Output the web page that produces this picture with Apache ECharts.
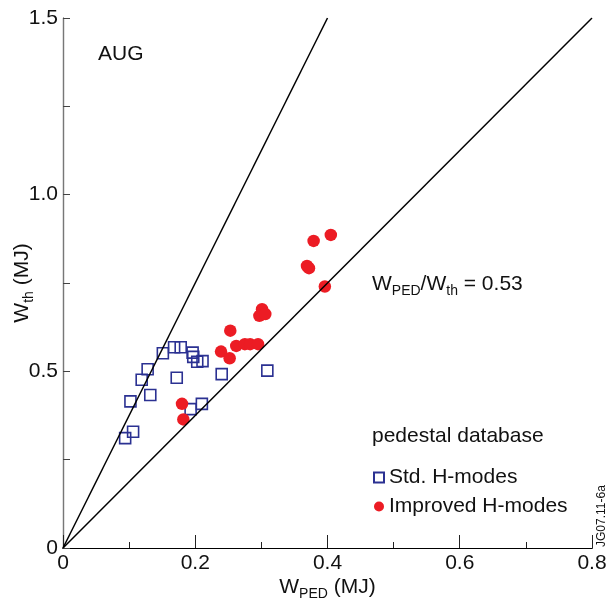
<!DOCTYPE html>
<html>
<head>
<meta charset="utf-8">
<script src="https://cdn.jsdelivr.net/npm/echarts@6/dist/echarts.min.js"></script>
<style>
html,body{margin:0;padding:0;background:#fff;}
#chart{width:612px;height:607px;}
</style>
</head>
<body>
<div id="chart"></div>
<script>
// Std. H-modes (W_PED, W_th) in MJ
const stdWped = [0.094, 0.106, 0.102, 0.132, 0.119, 0.128, 0.151, 0.168, 0.178, 0.172, 0.196, 0.197, 0.203, 0.211, 0.193, 0.210, 0.240, 0.309];
const stdWth  = [0.311, 0.329, 0.415, 0.433, 0.476, 0.506, 0.551, 0.568, 0.568, 0.482, 0.553, 0.541, 0.527, 0.529, 0.393, 0.408, 0.492, 0.502];
// Improved H-modes
const impWped = [0.405, 0.379, 0.369, 0.372, 0.396, 0.301, 0.297, 0.306, 0.253, 0.239, 0.252, 0.262, 0.275, 0.283, 0.295, 0.180, 0.182];
const impWth  = [0.886, 0.869, 0.798, 0.792, 0.740, 0.676, 0.657, 0.662, 0.615, 0.556, 0.537, 0.572, 0.577, 0.577, 0.577, 0.408, 0.364];
// reference ratio lines (W_PED, W_th)
const lineSteep = [[0, 0], [0.4, 1.5]];
const line053   = [[0, 0], [0.8, 1.5]];
const xTickLabels = ['0', '0.2', '0.4', '0.6', '0.8'];
const yTickLabels = ['0', '0.5', '1.0', '1.5'];

const FONT = 'Liberation Sans, Arial, Helvetica, sans-serif';
const FS = 21;
const zip = (a, b) => a.map((v, i) => [v, b[i]]);
const subRich = {
  n: {fontFamily: FONT, fontSize: FS, color: '#111', lineHeight: 24},
  s: {fontFamily: FONT, fontSize: 14, color: '#111', verticalAlign: 'bottom', lineHeight: 24, padding: [0, 0, -2, 0]}
};

const chart = echarts.init(document.getElementById('chart'));
chart.setOption({
  animation: false,
  backgroundColor: '#fff',
  grid: {left: 63, right: 20, top: 18, bottom: 59, containLabel: false, outerBoundsMode: 'none'},
  legend: {
    orient: 'vertical', left: 373, top: 467, padding: 0,
    itemWidth: 10, itemHeight: 10, itemGap: 8,
    data: ['Std. H-modes', 'Improved H-modes'],
    textStyle: {fontFamily: FONT, fontSize: FS, color: '#111'}
  },
  xAxis: [{
    type: 'value', min: 0, max: 0.8, interval: 0.2,
    name: '{n|W}{s|PED}{n| (MJ)}', nameLocation: 'middle', nameGap: 27, nameMoveOverlap: false,
    nameTextStyle: {rich: subRich},
    axisLine: {show: true, onZero: false, lineStyle: {color: '#000', width: 1.2}},
    axisTick: {show: true, inside: true, length: 13, lineStyle: {color: '#222', width: 1}},
    minorTick: {show: true, splitNumber: 2, length: 6, lineStyle: {color: '#222', width: 1}},
    splitLine: {show: false},
    axisLabel: {margin: 5, fontFamily: FONT, fontSize: FS, color: '#111',
      formatter: v => xTickLabels[Math.round(v / 0.2)]}
  }, {
    type: 'value', min: 0, max: 0.8, position: 'top',
    axisLine: {show: true, lineStyle: {color: '#000', width: 1.2}},
    axisTick: {show: false}, axisLabel: {show: false}, splitLine: {show: false}
  }],
  yAxis: [{
    type: 'value', min: 0, max: 1.5, interval: 0.5,
    name: '{n|W}{s|th}{n| (MJ)}', nameLocation: 'middle', nameGap: 29, nameMoveOverlap: false,
    nameTextStyle: {rich: subRich},
    axisLine: {show: true, onZero: false, lineStyle: {color: '#555', width: 1.2}},
    axisTick: {show: true, inside: true, length: 7, lineStyle: {color: '#444', width: 1}},
    minorTick: {show: true, splitNumber: 2, length: 7, lineStyle: {color: '#444', width: 1}},
    splitLine: {show: false},
    axisLabel: {margin: 5, fontFamily: FONT, fontSize: FS, color: '#111',
      formatter: v => yTickLabels[Math.round(v / 0.5)]}
  }, {
    type: 'value', min: 0, max: 1.5, position: 'right',
    axisLine: {show: true, lineStyle: {color: '#777', width: 1.2}},
    axisTick: {show: false}, axisLabel: {show: false}, splitLine: {show: false}
  }],
  graphic: [
    {type: 'text', left: 98, top: 44, style: {text: 'AUG', font: FS + 'px ' + FONT, fill: '#111'}},
    {type: 'text', left: 372, top: 274, style: {
      text: '{n|W}{s|PED}{n|/W}{s|th}{n| = 0.53}',
      rich: {
        n: {font: FS + 'px ' + FONT, fill: '#111', lineHeight: 24},
        s: {font: '14px ' + FONT, fill: '#111', verticalAlign: 'bottom', lineHeight: 24, padding: [0, 0, -2, 0]}
      }}},
    {type: 'text', left: 372, top: 426, style: {text: 'pedestal database', font: FS + 'px ' + FONT, fill: '#111'}},
    {type: 'text', x: 596, y: 547, rotation: Math.PI / 2, style: {text: 'JG07.11-6a', font: '12px ' + FONT, fill: '#111', align: 'left', verticalAlign: 'top'}}
  ],
  series: [
    {
      name: 'Std. H-modes', type: 'scatter', symbol: 'rect', symbolSize: 11,
      itemStyle: {color: 'rgba(255,255,255,0)', borderColor: '#2b3192', borderWidth: 1.6, opacity: 1},
      emphasis: {disabled: true},
      data: zip(stdWped, stdWth), z: 2
    },
    {
      name: 'Improved H-modes', type: 'scatter', symbol: 'circle', symbolSize: 12.5,
      itemStyle: {color: '#ec1c24', opacity: 1},
      emphasis: {disabled: true},
      data: zip(impWped, impWth), z: 3
    },
    {
      type: 'line', data: lineSteep, showSymbol: false, symbol: 'none',
      lineStyle: {color: '#000', width: 1.5}, z: 4, silent: true
    },
    {
      type: 'line', data: line053, showSymbol: false, symbol: 'none',
      lineStyle: {color: '#000', width: 1.5}, z: 4, silent: true
    }
  ]
});
</script>
</body>
</html>
